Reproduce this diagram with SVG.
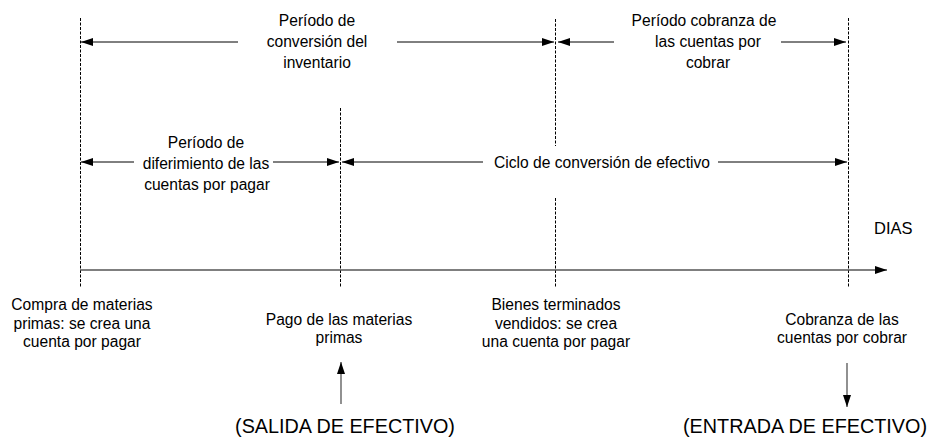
<svg xmlns="http://www.w3.org/2000/svg" width="931" height="442" viewBox="0 0 931 442">
<style>
text{font-family:"Liberation Sans",Arial,sans-serif;font-size:15.6px;fill:#000;text-anchor:middle}
.big{font-size:19.8px}
.dash{stroke:#000;stroke-width:1;stroke-dasharray:3,1.5;fill:none}
.arr{stroke:#000;stroke-width:1;fill:none;marker-end:url(#ah)}
.gray{stroke:#555;stroke-width:1.3;fill:none;marker-end:url(#ah)}
</style>
<defs>
<marker id="ah" viewBox="0 0 12 8" refX="12" refY="4" markerWidth="12" markerHeight="8" markerUnits="userSpaceOnUse" orient="auto">
<path d="M0,0 L12,4 L0,8 z" fill="#000"/>
</marker>
</defs>
<g id="guides">
<line class="dash" x1="80.5" y1="18" x2="80.5" y2="288"/>
<line class="dash" x1="340.5" y1="108" x2="340.5" y2="288"/>
<line class="dash" x1="555.5" y1="19" x2="555.5" y2="146"/>
<line class="dash" x1="555.5" y1="198" x2="555.5" y2="288"/>
<line class="dash" x1="848.5" y1="18" x2="848.5" y2="288"/>
</g>
<g id="connectors">
<line class="arr" x1="238" y1="42" x2="81" y2="42"/>
<line class="arr" x1="397" y1="42" x2="554" y2="42"/>
<line class="arr" x1="614" y1="42" x2="558" y2="42"/>
<line class="arr" x1="781" y1="42" x2="846" y2="42"/>
<line class="arr" x1="134" y1="162" x2="81" y2="162"/>
<line class="arr" x1="273" y1="162" x2="339" y2="162"/>
<line class="arr" x1="483" y1="162" x2="342" y2="162"/>
<line class="arr" x1="718" y1="162" x2="847" y2="162"/>
<line class="gray" x1="80" y1="270" x2="887" y2="270"/>
<line class="gray" x1="341" y1="404" x2="341" y2="362"/>
<line class="gray" x1="847" y1="363" x2="847" y2="407"/>
</g>
<g id="periodo-inventario">
<text x="317" y="26">Período de</text>
<text x="317" y="47">conversión del</text>
<text x="317" y="68">inventario</text>
</g>
<g id="periodo-cobranza">
<text x="704" y="26">Período cobranza de</text>
<text x="708" y="47">las cuentas por</text>
<text x="708" y="68">cobrar</text>
</g>
<g id="periodo-diferimiento">
<text x="206" y="148">Período de</text>
<text x="206" y="169">diferimiento de las</text>
<text x="207" y="190">cuentas por pagar</text>
</g>
<g id="ciclo">
<text x="602" y="168">Ciclo de conversión de efectivo</text>
</g>
<g id="dias">
<text x="874" y="234" style="text-anchor:start;font-size:16.5px">DIAS</text>
</g>
<g id="compra">
<text x="82" y="310">Compra de materias</text>
<text x="82" y="328.5">primas: se crea una</text>
<text x="82" y="347">cuenta por pagar</text>
</g>
<g id="pago">
<text x="339" y="325">Pago de las materias</text>
<text x="339" y="343">primas</text>
</g>
<g id="bienes">
<text x="556" y="310">Bienes terminados</text>
<text x="556" y="328.5">vendidos: se crea</text>
<text x="556" y="347">una cuenta por pagar</text>
</g>
<g id="cobranza">
<text x="842" y="325">Cobranza de las</text>
<text x="842" y="343">cuentas por cobrar</text>
</g>
<g id="salida">
<text class="big" x="345" y="433">(SALIDA DE EFECTIVO)</text>
</g>
<g id="entrada">
<text class="big" x="805" y="433">(ENTRADA DE EFECTIVO)</text>
</g>
</svg>
